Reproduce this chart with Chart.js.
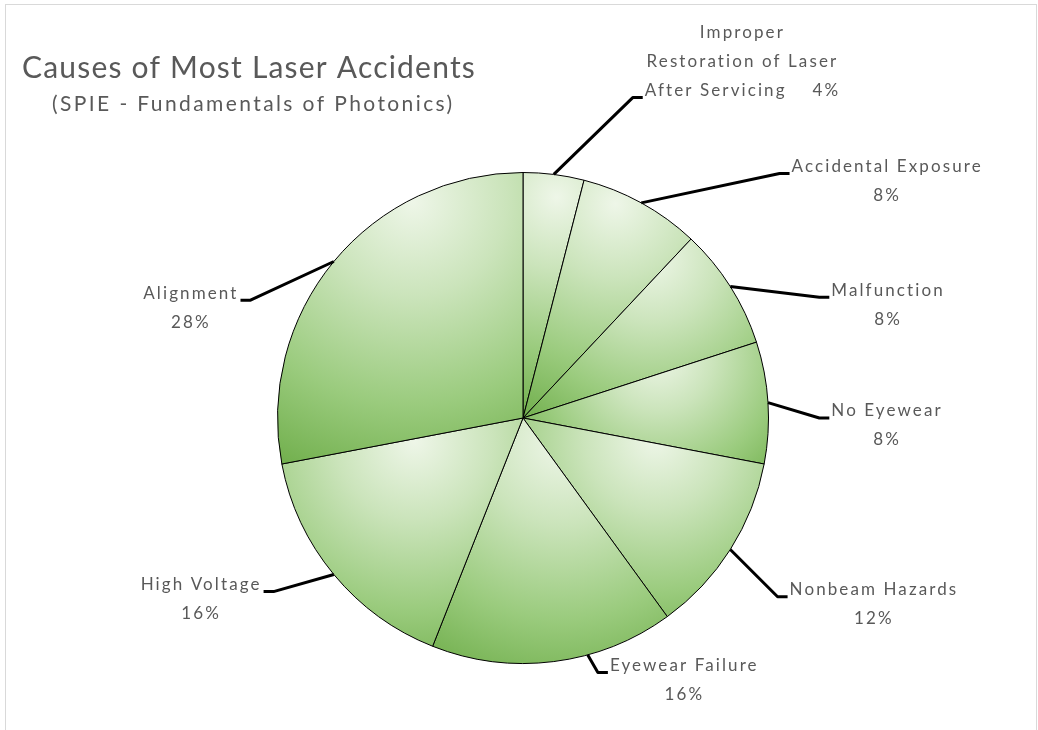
<!DOCTYPE html>
<html>
<head>
<meta charset="utf-8">
<script src="https://cdn.jsdelivr.net/npm/chart.js@4.4.1/dist/chart.umd.min.js"></script>
<style>
  html, body { margin: 0; padding: 0; background: #fff; }
  canvas { display: block; }
</style>
</head>
<body>
<canvas id="chart" width="1038" height="730"></canvas>
<script>
// data (clockwise from 12 o'clock)
const causes = ['Improper Restoration of Laser After Servicing', 'Accidental Exposure', 'Malfunction',
  'No Eyewear', 'Nonbeam Hazards', 'Eyewear Failure', 'High Voltage', 'Alignment'];
const shares = [4, 8, 8, 8, 12, 16, 16, 28];

// how each label is wrapped, as in the original
const labelLines = [['Improper', 'Restoration of Laser', 'After Servicing'], ['Accidental Exposure'], ['Malfunction'],
  ['No Eyewear'], ['Nonbeam Hazards'], ['Eyewear Failure'], ['High Voltage'], ['Alignment']];

const titleText = 'Causes of Most Laser Accidents';
const subtitleText = '(SPIE - Fundamentals of Photonics)';

// leader elbow, relative to the pie centre in units of radius
const elbows = [[0.447, -1.305], [1.045, -0.996], [1.207, -0.492], [1.207, 0.0],
  [1.037, 0.728], [0.305, 1.037], [-1.016, 0.707], [-1.110, -0.480]];
// where on the slice edge the leader starts (0 = start angle, 1 = end angle)
const leaderAt = [0.5, 0.5, 0.5, 0.5, 0.5, 0.36, 0.5, 0.5];

const TEXT = '#595959';
const FONT = 'Lato, "Open Sans", sans-serif';

// Excel-like light-to-dark green gradient per slice
function sliceFill(context) {
  const arc = context.element;
  if (!arc || !arc.outerRadius) return '#a9d18e';
  const { x, y, startAngle, endAngle, outerRadius: r } = arc;
  const angles = [startAngle, endAngle];
  for (let k = -1; k <= 3; k++) {
    const a = k * Math.PI / 2;
    if (a > startAngle && a < endAngle) angles.push(a);
  }
  const xs = [x], ys = [y];
  angles.forEach(a => { xs.push(x + r * Math.cos(a)); ys.push(y + r * Math.sin(a)); });
  const x0 = Math.min(...xs), x1 = Math.max(...xs);
  const y0 = Math.min(...ys), y1 = Math.max(...ys);
  const w = x1 - x0, h = y1 - y0;
  const gx = x0 + w * 0.55, gy = y0 + h * 0.1;
  const gr = Math.hypot(w * 0.6, h * 0.95);
  const g = context.chart.ctx.createRadialGradient(gx, gy, 0, gx, gy, gr);
  g.addColorStop(0, '#eef6e8');
  g.addColorStop(0.3, '#cbe4bb');
  g.addColorStop(0.65, '#9acb7d');
  g.addColorStop(1, '#68a942');
  return g;
}

const decorations = {
  id: 'decorations',
  afterDraw(chart) {
    const ctx = chart.ctx;
    ctx.save();

    // picture frame
    ctx.strokeStyle = '#d9d9d9';
    ctx.lineWidth = 1;
    ctx.strokeRect(5.5, 4.5, 1031, 740);

    // title block
    ctx.fillStyle = TEXT;
    ctx.textBaseline = 'middle';
    ctx.textAlign = 'left';
    ctx.letterSpacing = '1.2px';
    ctx.font = '30px ' + FONT;
    ctx.fillText(titleText, 22, 68);
    ctx.letterSpacing = '2.4px';
    ctx.font = '21px ' + FONT;
    ctx.fillText(subtitleText, 52, 104);

    // leaders and data labels
    const meta = chart.getDatasetMeta(0);
    const total = shares.reduce((a, b) => a + b, 0);
    ctx.font = '17px ' + FONT;
    ctx.letterSpacing = '2.1px';
    meta.data.forEach((arc, i) => {
      const { x, y, startAngle, endAngle, outerRadius: r } = arc.getProps(['x', 'y', 'startAngle', 'endAngle', 'outerRadius'], true);
      const a = startAngle + (endAngle - startAngle) * leaderAt[i];
      const sx = x + r * Math.cos(a), sy = y + r * Math.sin(a);
      const ex = x + elbows[i][0] * r, ey = y + elbows[i][1] * r;
      const right = ex >= x;
      const tx = ex + (right ? 10 : -10);

      ctx.strokeStyle = '#000';
      ctx.lineWidth = 3;
      ctx.lineJoin = 'round';
      ctx.beginPath();
      ctx.moveTo(sx, sy);
      ctx.lineTo(ex, ey);
      ctx.lineTo(tx, ey);
      ctx.stroke();

      const pct = Math.round(shares[i] / total * 100) + '%';
      const lines = labelLines[i].slice();
      let pointed = 0;
      if (lines.length > 1) {
        lines[lines.length - 1] += '    ' + pct;
        pointed = lines.length - 1;
      } else {
        lines.push(pct);
      }
      const wPointed = ctx.measureText(lines[pointed]).width;
      const cx = right ? tx + 2 + wPointed / 2 : tx - 2 - wPointed / 2;
      ctx.fillStyle = TEXT;
      ctx.textAlign = 'center';
      lines.forEach((ln, j) => {
        ctx.fillText(ln, cx, ey - 7 + (j - pointed) * 29);
      });
    });
    ctx.restore();
  }
};

const chart = new Chart(document.getElementById('chart'), {
  type: 'pie',
  data: {
    labels: causes,
    datasets: [{
      data: shares,
      backgroundColor: sliceFill,
      borderColor: '#000',
      borderWidth: 1
    }]
  },
  options: {
    responsive: false,
    animation: false,
    layout: { padding: { top: 172, bottom: 66, left: 277, right: 269 } },
    plugins: { legend: { display: false }, tooltip: { enabled: false } }
  },
  plugins: [decorations]
});
chart.update();
</script>
</body>
</html>
